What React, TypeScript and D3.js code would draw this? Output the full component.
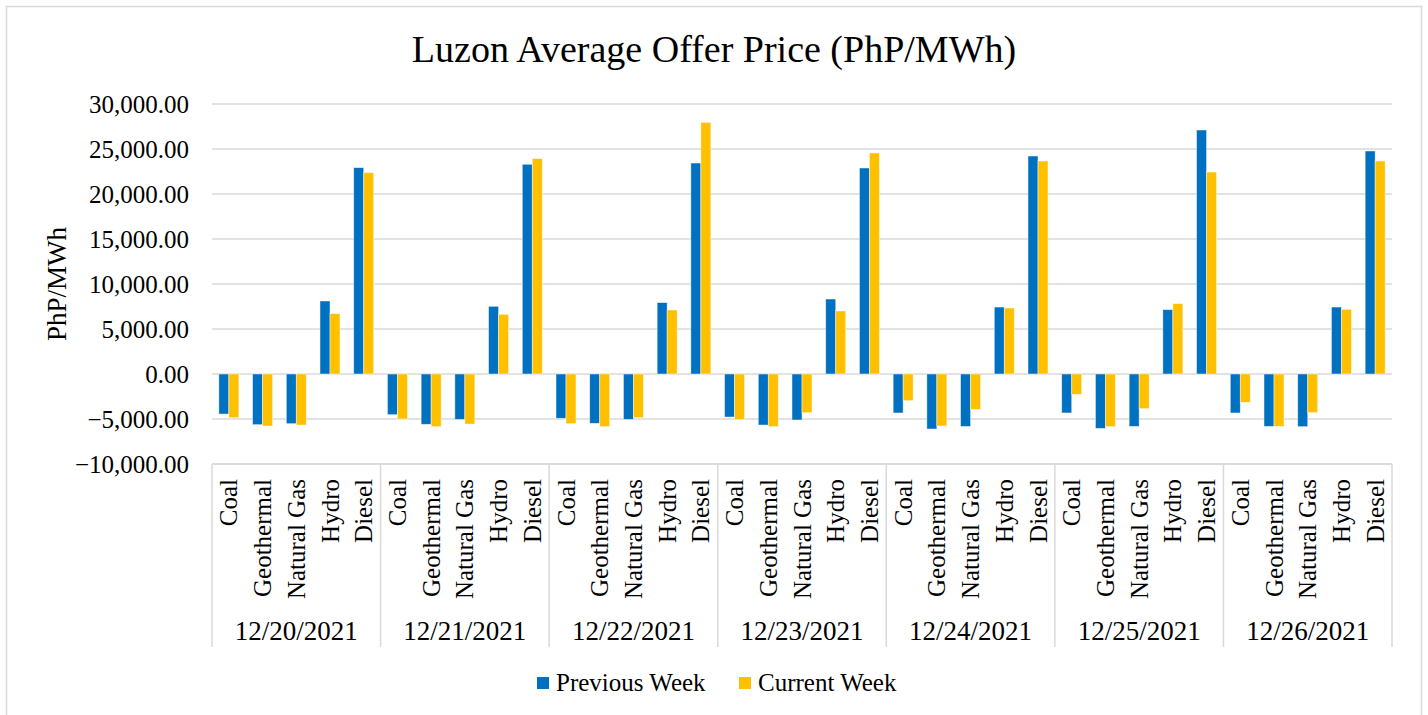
import React, { useEffect, useRef } from 'react';
import * as d3 from 'd3';

const dates = ['12/20/2021', '12/21/2021', '12/22/2021', '12/23/2021', '12/24/2021', '12/25/2021', '12/26/2021'];
const fuels = ['Coal', 'Geothermal', 'Natural Gas', 'Hydro', 'Diesel'];
const seriesNames = ['Previous Week', 'Current Week'];
const yTicks = [-10000, -5000, 0, 5000, 10000, 15000, 20000, 25000, 30000];

// per date, per fuel (Coal, Geothermal, Natural Gas, Hydro, Diesel)
const previousWeek = [
  [-4450, -5630, -5520, 8110, 22930],
  [-4520, -5590, -5040, 7520, 23300],
  [-4920, -5480, -5040, 7930, 23440],
  [-4780, -5670, -5110, 8330, 22890],
  [-4330, -6110, -5830, 7440, 24220],
  [-4330, -6040, -5820, 7150, 27110],
  [-4330, -5820, -5850, 7440, 24780],
];
const currentWeek = [
  [-4850, -5780, -5670, 6700, 22370],
  [-5000, -5850, -5560, 6630, 23930],
  [-5520, -5850, -4850, 7110, 27960],
  [-5070, -5850, -4300, 7000, 24560],
  [-2960, -5780, -3940, 7330, 23670],
  [-2260, -5850, -3850, 7820, 22440],
  [-3150, -5820, -4300, 7190, 23670],
];

const colors = ['#0070C0', '#FFC000'];
const FONT = '"Liberation Serif", "Times New Roman", serif';

const App: React.FC = () => {
  const svgRef = useRef<SVGSVGElement>(null);

  useEffect(() => {
    if (!svgRef.current) return;
    const width = 1428;
    const height = 715;
    const plot = { left: 212, right: 1392, top: 104, bottom: 464 };

    const svg = d3.select(svgRef.current);
    svg.selectAll('*').remove();

    // chart border
    svg.append('rect')
      .attr('x', 6.5).attr('y', 6.5)
      .attr('width', 1415).attr('height', height)
      .attr('fill', 'white')
      .attr('stroke', '#d9d9d9')
      .attr('stroke-width', 1.5);

    svg.append('text')
      .attr('x', 714).attr('y', 62)
      .attr('text-anchor', 'middle')
      .attr('font-family', FONT)
      .attr('font-size', '38px')
      .attr('fill', '#000')
      .text('Luzon Average Offer Price (PhP/MWh)');

    const yScale = d3.scaleLinear().domain([-10000, 30000]).range([plot.bottom, plot.top]);
    const xDate = d3.scaleBand().domain(dates).range([plot.left, plot.right]);
    const xFuel = d3.scaleBand().domain(fuels).range([0, xDate.bandwidth()]);
    const slot = xFuel.bandwidth();
    const xSeries = d3.scaleBand().domain(seriesNames).range([slot / 2 - 10, slot / 2 + 10]);

    // grid
    svg.append('g')
      .selectAll('line')
      .data(yTicks)
      .enter()
      .append('line')
      .attr('x1', plot.left).attr('x2', plot.right)
      .attr('y1', d => yScale(d)).attr('y2', d => yScale(d))
      .attr('stroke', '#d9d9d9')
      .attr('stroke-width', 1.5);

    // y tick labels
    const fmt = d3.format(',.2f');
    svg.append('g')
      .selectAll('text')
      .data(yTicks)
      .enter()
      .append('text')
      .attr('x', 189)
      .attr('y', d => yScale(d))
      .attr('dy', '0.34em')
      .attr('text-anchor', 'end')
      .attr('font-family', FONT)
      .attr('font-size', '25px')
      .attr('fill', '#000')
      .text(d => fmt(d));

    // y title
    svg.append('text')
      .attr('transform', 'translate(66, 284) rotate(-90)')
      .attr('text-anchor', 'middle')
      .attr('font-family', FONT)
      .attr('font-size', '27px')
      .attr('fill', '#000')
      .text('PhP/MWh');

    // bars
    const bars: { date: string; fuel: string; series: string; value: number; si: number }[] = [];
    dates.forEach((date, di) => {
      fuels.forEach((fuel, fi) => {
        bars.push({ date, fuel, series: seriesNames[0], value: previousWeek[di][fi], si: 0 });
        bars.push({ date, fuel, series: seriesNames[1], value: currentWeek[di][fi], si: 1 });
      });
    });

    svg.append('g')
      .selectAll('rect')
      .data(bars)
      .enter()
      .append('rect')
      .attr('x', d => (xDate(d.date) || 0) + (xFuel(d.fuel) || 0) + (xSeries(d.series) || 0))
      .attr('y', d => yScale(Math.max(0, d.value)))
      .attr('width', xSeries.bandwidth())
      .attr('height', d => Math.abs(yScale(d.value) - yScale(0)))
      .attr('fill', d => colors[d.si])
      .attr('stroke', 'rgba(255,255,255,0.6)')
      .attr('stroke-width', 0.75);

    // category axis frame
    const axisG = svg.append('g');
    axisG.append('line')
      .attr('x1', plot.left).attr('x2', plot.right)
      .attr('y1', plot.bottom).attr('y2', plot.bottom)
      .attr('stroke', '#d9d9d9')
      .attr('stroke-width', 1.5);

    axisG.selectAll('.sep')
      .data([...dates.map(d => xDate(d) || 0), plot.right])
      .enter()
      .append('line')
      .attr('x1', d => d).attr('x2', d => d)
      .attr('y1', plot.bottom).attr('y2', 647)
      .attr('stroke', '#d9d9d9')
      .attr('stroke-width', 1.5);

    // fuel labels (rotated)
    const fuelLabels: { date: string; fuel: string }[] = [];
    dates.forEach(date => fuels.forEach(fuel => fuelLabels.push({ date, fuel })));
    axisG.selectAll('.fuel')
      .data(fuelLabels)
      .enter()
      .append('text')
      .attr('transform', d => {
        const cx = (xDate(d.date) || 0) + (xFuel(d.fuel) || 0) + slot / 2;
        return `translate(${cx + 8.5}, 479) rotate(-90)`;
      })
      .attr('text-anchor', 'end')
      .attr('font-family', FONT)
      .attr('font-size', '25px')
      .attr('fill', '#000')
      .text(d => d.fuel);

    // date labels
    axisG.selectAll('.date')
      .data(dates)
      .enter()
      .append('text')
      .attr('x', d => (xDate(d) || 0) + xDate.bandwidth() / 2)
      .attr('y', 640)
      .attr('text-anchor', 'middle')
      .attr('font-family', FONT)
      .attr('font-size', '27px')
      .attr('fill', '#000')
      .text(d => d);

    // legend
    const legendX = [537, 739];
    const legend = svg.append('g');
    seriesNames.forEach((name, i) => {
      legend.append('rect')
        .attr('x', legendX[i]).attr('y', 677)
        .attr('width', 12).attr('height', 12)
        .attr('fill', colors[i]);
      legend.append('text')
        .attr('x', legendX[i] + 19).attr('y', 691)
        .attr('font-family', FONT)
        .attr('font-size', '25px')
        .attr('fill', '#000')
        .text(name);
    });

    svg.attr('width', width).attr('height', height);
  }, []);

  return (
    <div style={{ position: 'absolute', left: 0, top: 0, width: 1428, height: 715, overflow: 'hidden', background: '#fff' }}>
      <svg ref={svgRef} width={1428} height={715} style={{ display: 'block' }} />
    </div>
  );
};

export default App;
